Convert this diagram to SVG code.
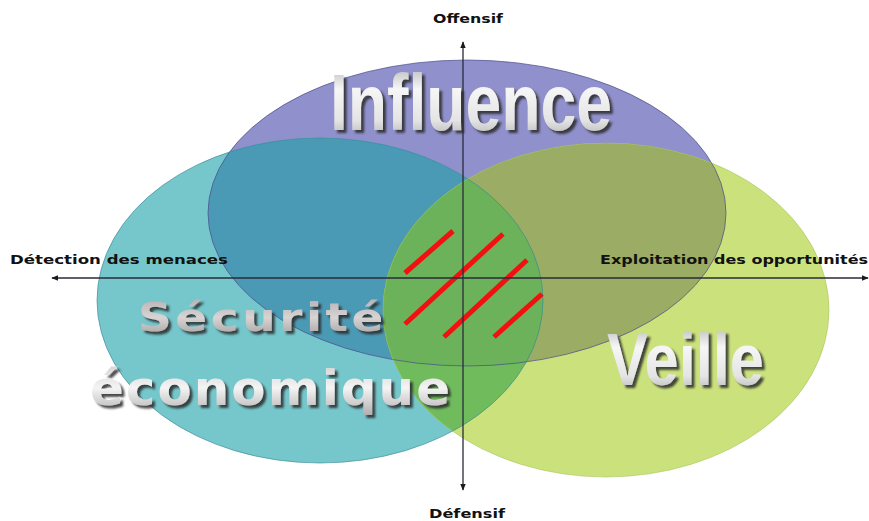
<svg xmlns="http://www.w3.org/2000/svg" width="869" height="521" viewBox="0 0 869 521">
<style>
.axis{stroke:#2a2a3a;stroke-width:1.3;fill:none}
.lbl{font-family:"DejaVu Sans","Liberation Sans",sans-serif;font-weight:bold;font-size:13px;fill:#111}
.big{font-family:"Liberation Sans","Arial",sans-serif;font-weight:bold;fill:url(#silver);filter:url(#sh)}
.wide{font-family:"DejaVu Sans","Liberation Sans",sans-serif;font-weight:bold;filter:url(#sh)}
.hatch{stroke:#f21010;stroke-width:5;stroke-linecap:butt}
</style>
<defs>
<linearGradient id="silver" x1="0" y1="0" x2="0" y2="1">
<stop offset="0" stop-color="#a8a8a8"/>
<stop offset="0.35" stop-color="#f6f6f6"/>
<stop offset="0.7" stop-color="#e4e4e4"/>
<stop offset="1" stop-color="#a0a0a0"/>
</linearGradient>
<linearGradient id="silver2" x1="0" y1="0" x2="0" y2="1">
<stop offset="0" stop-color="#b4acac"/>
<stop offset="0.5" stop-color="#d8d4d4"/>
<stop offset="1" stop-color="#a09a9a"/>
</linearGradient>
<linearGradient id="silver3" x1="0" y1="0" x2="0" y2="1">
<stop offset="0" stop-color="#d0cccc"/>
<stop offset="0.5" stop-color="#f4f4f4"/>
<stop offset="1" stop-color="#b0acac"/>
</linearGradient>
<filter id="sh" x="-10%" y="-20%" width="130%" height="150%">
<feDropShadow dx="3" dy="3" stdDeviation="1" flood-color="#2a2a2a" flood-opacity="0.85"/>
</filter>
<marker id="ah" viewBox="0 0 10 10" refX="9" refY="5" markerWidth="7" markerHeight="7" orient="auto-start-reverse" markerUnits="userSpaceOnUse">
<path d="M0,1 L10,5 L0,9 z" fill="#1a1a1a"/>
</marker>
<clipPath id="cpP"><ellipse cx="467" cy="213" rx="259" ry="153"/></clipPath>
<clipPath id="cpT"><ellipse cx="320" cy="300.5" rx="223" ry="162.5"/></clipPath>
</defs>
<rect width="869" height="521" fill="#ffffff"/>

<g id="shapes">
<ellipse cx="467" cy="213" rx="259" ry="153" fill="#9090cc"/>
<ellipse cx="320" cy="300.5" rx="223" ry="162.5" fill="#75c7cc"/>
<ellipse cx="320" cy="300.5" rx="223" ry="162.5" fill="#4b9ab5" clip-path="url(#cpP)"/>
<ellipse cx="606" cy="310" rx="223" ry="167" fill="#cbe27c"/>
<ellipse cx="606" cy="310" rx="223" ry="167" fill="#9bac65" clip-path="url(#cpP)"/>
<ellipse cx="606" cy="310" rx="223" ry="167" fill="#70bc5c" clip-path="url(#cpT)"/>
<g clip-path="url(#cpP)"><ellipse cx="606" cy="310" rx="223" ry="167" fill="#6bb25a" clip-path="url(#cpT)"/></g>
<ellipse cx="467" cy="213" rx="259" ry="153" fill="none" stroke="#4c4c8c" stroke-width="0.9" stroke-opacity="0.8"/>
<ellipse cx="320" cy="300.5" rx="223" ry="162.5" fill="none" stroke="#3a8896" stroke-width="0.9" stroke-opacity="0.7"/>
<ellipse cx="606" cy="310" rx="223" ry="167" fill="none" stroke="#9fbf55" stroke-width="0.9" stroke-opacity="0.6"/>
</g>

<g id="hatching">
<line class="hatch" x1="405" y1="273" x2="453" y2="231"/>
<line class="hatch" x1="405" y1="324" x2="503" y2="234"/>
<line class="hatch" x1="444" y1="337" x2="527" y2="260"/>
<line class="hatch" x1="494" y1="337" x2="542" y2="294"/>
</g>

<g id="connectors">
<line class="axis" x1="463" y1="490" x2="463" y2="42" marker-end="url(#ah)" marker-start="url(#ah)"/>
<line class="axis" x1="52" y1="278" x2="868" y2="278" marker-end="url(#ah)" marker-start="url(#ah)"/>
</g>

<g id="axis-labels">
<text class="lbl" x="468" y="23" text-anchor="middle" font-size="12" textLength="70" lengthAdjust="spacingAndGlyphs">Offensif</text>
<text class="lbl" x="467" y="518" text-anchor="middle" font-size="12" textLength="76" lengthAdjust="spacingAndGlyphs">Défensif</text>
<text class="lbl" x="10" y="264" textLength="218" lengthAdjust="spacingAndGlyphs">Détection des menaces</text>
<text class="lbl" x="600" y="264" textLength="268" lengthAdjust="spacingAndGlyphs">Exploitation des opportunités</text>
</g>

<g id="node-influence">
<text class="big" x="330" y="130" font-size="80" textLength="282" lengthAdjust="spacingAndGlyphs">Influence</text>
</g>
<g id="node-securite">
<text class="wide" x="138" y="331" font-size="39" letter-spacing="3" fill="url(#silver2)" textLength="249" lengthAdjust="spacingAndGlyphs">Sécurité</text>
<text class="wide" x="90" y="405" font-size="48" letter-spacing="2" fill="url(#silver3)" textLength="362" lengthAdjust="spacingAndGlyphs">économique</text>
</g>
<g id="node-veille">
<text class="big" x="607" y="385" font-size="74" textLength="157" lengthAdjust="spacingAndGlyphs">Veille</text>
</g>
</svg>
